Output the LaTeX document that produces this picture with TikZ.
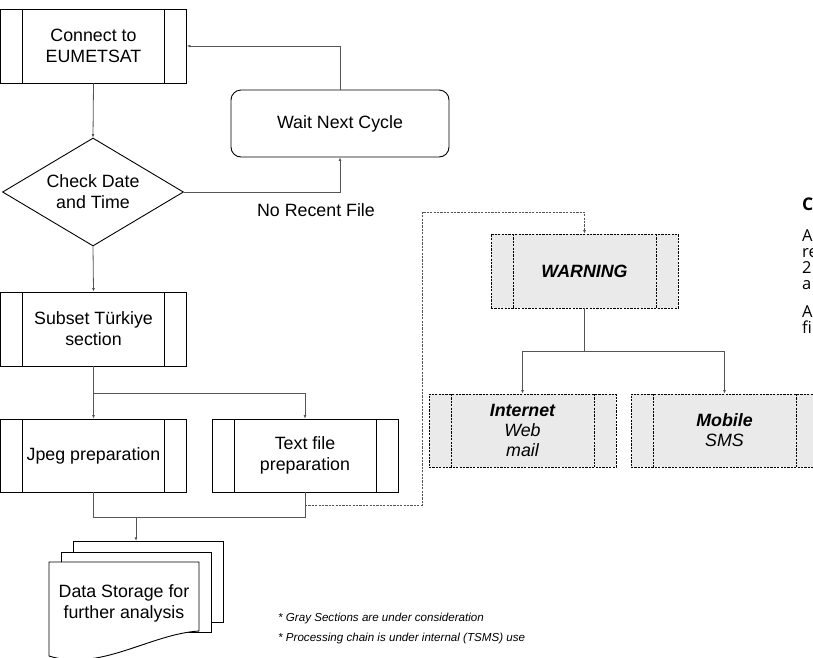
\documentclass[tikz,border=0pt]{standalone}
\usepackage{fontspec}
\setmainfont{Liberation Sans}
\newfontfamily\opensans{Open Sans}
\usetikzlibrary{shapes.geometric,arrows.meta}
\definecolor{boxgray}{RGB}{234,234,234}
\definecolor{linegray}{RGB}{85,85,85}
\newcommand\innerlines[1]{\draw[#1] ([xshift=22pt]path picture bounding box.north west) -- ([xshift=22pt]path picture bounding box.south west) ([xshift=-22pt]path picture bounding box.north east) -- ([xshift=-22pt]path picture bounding box.south east);}
\begin{document}
\begin{tikzpicture}[x=1pt,y=-1pt,
  mainfont/.style={font=\fontsize{17.8}{21}\selectfont},
  procbox/.style={draw=black, line width=0.9pt, minimum width=186pt, minimum height=74pt,
    inner sep=0pt, align=center, mainfont,
    path picture={\innerlines{line width=0.9pt}}},
  graybox/.style={draw=black, fill=boxgray, line width=0.8pt, dash pattern=on 2.2pt off 1.2pt,
    minimum width=187pt, minimum height=74pt, inner sep=0pt, align=center,
    font=\fontsize{17.8}{20}\selectfont\itshape,
    path picture={\innerlines{line width=0.8pt, dash pattern=on 2.2pt off 1.2pt}}},
  conn/.style={draw=linegray, line width=0.8pt},
  arr/.style={conn, -{Latex[length=3.5pt,width=3pt]}},
  dasharr/.style={arr, dash pattern=on 2.2pt off 1.2pt},
  note/.style={font=\fontsize{11.6}{14}\selectfont\itshape, anchor=base west, inner sep=0pt},
  side/.style={font=\opensans\fontsize{16.5}{16}\selectfont, anchor=base west, inner sep=0pt},
  doc/.style={draw=black, line width=0.9pt, fill=white}
]
\useasboundingbox (0,0) rectangle (813,657);

% main chain
\node[procbox] (connect) at (93.5,46) {Connect to\\EUMETSAT};
\node[draw=black, line width=0.9pt, rounded corners=10pt, minimum width=218pt, minimum height=67pt,
      inner sep=0pt, mainfont] (wait) at (340,123.5) {Wait Next Cycle};
\node[diamond, draw=black, line width=0.9pt, minimum width=181pt, minimum height=108pt,
      aspect=1.68, inner sep=0pt, align=center, mainfont] (check) at (93,192) {Check Date\\and Time};
\node[mainfont] (norecent) at (316,210) {No Recent File};
\node[procbox] (subset) at (93.5,329) {Subset Türkiye\\section};
\node[procbox, minimum height=73pt] (jpeg) at (93.5,455.5) {Jpeg preparation};
\node[procbox, minimum height=73pt] (textfile) at (305,455.5) {Text file\\preparation};

% storage (multi document)
\node[minimum width=174pt, minimum height=116pt, inner sep=0pt] (storagegrp) at (136,599) {};
\draw[doc] (73,541) rectangle (223,622);
\draw[doc] (61,552) rectangle (211,632);
\draw[doc] (49,562) -- (199,562) -- (199,631) .. controls (150,634) and (100,672) .. (49,656) -- cycle;
\node[align=center, mainfont] (storage) at (124,603) {Data Storage for\\further analysis};

% warning part
\node[graybox] (warning) at (584.5,271) {\bfseries WARNING};
\node[graybox, minimum height=73pt] (internet) at (522.5,430.5) {{\bfseries Internet}\\Web\\mail};
\node[graybox, minimum height=73pt] (mobile) at (724.5,430.5) {{\bfseries Mobile}\\SMS};

% notes
\node[note] (note1) at (278,621) {* Gray Sections are under consideration};
\node[note] (note2) at (278,641) {* Processing chain is under internal (TSMS) use};

% cut-off side text
\node[side, font=\opensans\fontsize{17.5}{16}\selectfont\bfseries] (sC) at (802,210) {C};
\node[side] (sA) at (802,241) {A};
\node[side] (sre) at (802,257) {re};
\node[side] (s2) at (802,273) {2};
\node[side] (sa) at (802,289) {a};
\node[side] (sA2) at (802,317) {A};
\node[side] (sfi) at (802,333) {fi};

% connectors
\coordinate (split) at (93.5,393);
\coordinate (merge) at (136,517);
\coordinate (dstart) at (305,505);
\coordinate (dcorner) at (422,212);
\coordinate (split2) at (584.5,351);

\draw[arr] (connect.south) -- (check.north);
\draw[arr] (wait.north) |- (connect.east);
\draw[arr] (check.east) -| (wait.south);
\draw[arr] (check.south) -- (subset.north);
\draw[conn] (subset.south) -- (split);
\draw[arr] (split) -- (jpeg.north);
\draw[arr] (split) -| (textfile.north);
\draw[conn] (jpeg.south) |- (merge) -| (textfile.south);
\draw[arr] (merge) -- (storagegrp.north);
\draw[dasharr] (dstart) -| (dcorner) -| (warning.north);
\draw[conn] (warning.south) -- (split2);
\draw[arr] (split2) -| (internet.north);
\draw[arr] (split2) -| (mobile.north);
\end{tikzpicture}
\end{document}
